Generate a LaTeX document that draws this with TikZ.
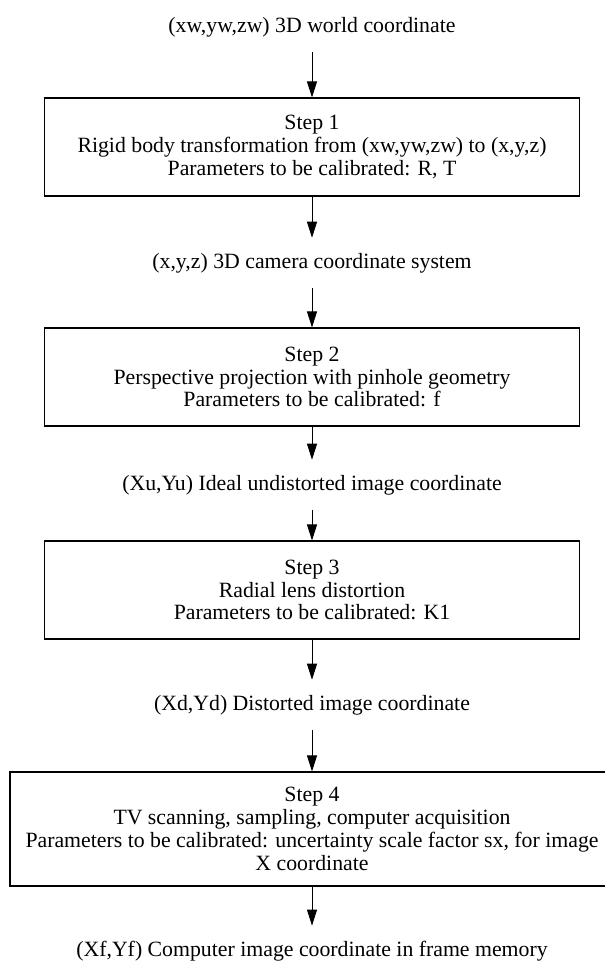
\documentclass[tikz,border=0pt]{standalone}
\usepackage{fontspec}
\setmainfont{Liberation Serif}
\usetikzlibrary{arrows.meta}
\tikzset{
  >={Triangle[length=3.2mm,width=2mm]},
  stage/.style={rectangle,draw,line width=0.6pt,minimum width=10.7cm,minimum height=1.96cm,align=center,inner sep=0pt},
  crd/.style={inner xsep=2pt,inner ysep=0.3cm},
  flow/.style={->,line width=0.5pt}
}
\begin{document}
\begin{tikzpicture}[font=\fontsize{12.4}{13}\selectfont]
    \useasboundingbox (0,0) rectangle (12.08,-19.26);

    % Coordinate systems between the stages
    \node[crd] (world) at (6.24,-0.54) {(xw,yw,zw) 3D world coordinate};
    \node[crd] (cam) at (6.24,-5.26) {(x,y,z) 3D camera coordinate system};
    \node[crd] (ideal) at (6.24,-9.70) {(Xu,Yu) Ideal undistorted image coordinate};
    \node[crd] (dist) at (6.24,-14.10) {(Xd,Yd) Distorted image coordinate};
    \node[crd] (frame) at (6.24,-19.02) {(Xf,Yf) Computer image coordinate in frame memory};

    % Calibration steps
    \node[stage] (s1) at (6.24,-2.94) {Step 1\\Rigid body transformation from (xw,yw,zw) to (x,y,z)\\Parameters to be calibrated: R, T};
    \node[stage] (s2) at (6.24,-7.54) {Step 2\\Perspective projection with pinhole geometry\\Parameters to be calibrated: f};
    \node[stage] (s3) at (6.24,-11.80) {Step 3\\Radial lens distortion\\Parameters to be calibrated: K1};
    \node[stage, minimum width=12.08cm, minimum height=2.28cm] (s4) at (6.24,-16.58) {Step 4\\TV scanning, sampling, computer acquisition\\Parameters to be calibrated: uncertainty scale factor sx, for image\\X coordinate};

    % Flow
    \draw[flow] (world) -- (s1);
    \draw[flow] (s1) -- (cam);
    \draw[flow] (cam) -- (s2);
    \draw[flow] (s2) -- (ideal);
    \draw[flow] (ideal) -- (s3);
    \draw[flow] (s3) -- (dist);
    \draw[flow] (dist) -- (s4);
    \draw[flow] (s4) -- (frame);
\end{tikzpicture}
\end{document}
